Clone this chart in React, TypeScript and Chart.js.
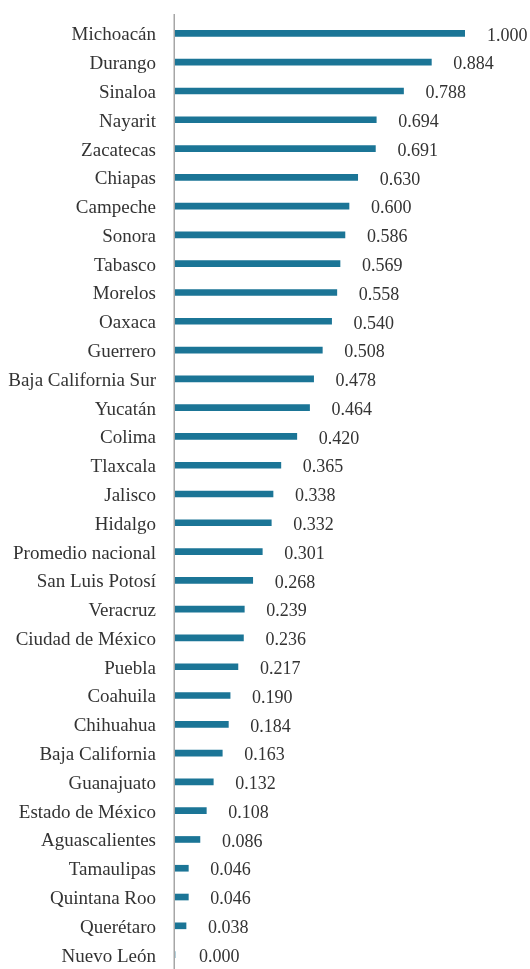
import React, { useEffect, useRef } from "react";
import { Chart, registerables } from "chart.js";

Chart.register(...registerables);

const categories = [
  "Michoacán", "Durango", "Sinaloa", "Nayarit", "Zacatecas", "Chiapas", "Campeche",
  "Sonora", "Tabasco", "Morelos", "Oaxaca", "Guerrero", "Baja California Sur", "Yucatán",
  "Colima", "Tlaxcala", "Jalisco", "Hidalgo", "Promedio nacional", "San Luis Potosí",
  "Veracruz", "Ciudad de México", "Puebla", "Coahuila", "Chihuahua", "Baja California",
  "Guanajuato", "Estado de México", "Aguascalientes", "Tamaulipas", "Quintana Roo",
  "Querétaro", "Nuevo León",
];

const values = [
  1.0, 0.884, 0.788, 0.694, 0.691, 0.63, 0.6, 0.586, 0.569, 0.558, 0.54, 0.508, 0.478,
  0.464, 0.42, 0.365, 0.338, 0.332, 0.301, 0.268, 0.239, 0.236, 0.217, 0.19, 0.184,
  0.163, 0.132, 0.108, 0.086, 0.046, 0.046, 0.038, 0.0,
];

const BAR_COLOR = "#1b7596";
const TEXT_COLOR = "#333333";
const AXIS_COLOR = "#a6a6a6";

const valueLabels = {
  id: "valueLabels",
  afterDatasetsDraw(chart: any) {
    const { ctx, chartArea } = chart;
    const xs = chart.scales.x;
    const meta = chart.getDatasetMeta(0);
    ctx.save();
    // axis line
    ctx.strokeStyle = AXIS_COLOR;
    ctx.lineWidth = 1.5;
    ctx.beginPath();
    ctx.moveTo(chartArea.left - 0.75, chartArea.top - 5);
    ctx.lineTo(chartArea.left - 0.75, chartArea.bottom);
    ctx.stroke();
    ctx.font = '18px "Liberation Serif"';
    ctx.fillStyle = TEXT_COLOR;
    ctx.textAlign = "left";
    ctx.textBaseline = "middle";
    meta.data.forEach((bar: any, i: number) => {
      const v = values[i];
      const x = Math.max(xs.getPixelForValue(v) + 22, xs.getPixelForValue(0) + 24);
      ctx.fillText(v.toFixed(3), x, bar.y + 2.5);
    });
    ctx.restore();
  },
};

export default function App() {
  const ref = useRef<HTMLCanvasElement>(null);
  useEffect(() => {
    document.body.style.margin = "0";
    const chart = new Chart(ref.current!, {
      type: "bar",
      data: {
        labels: categories,
        datasets: [
          {
            data: values,
            backgroundColor: BAR_COLOR,
            barThickness: 6,
          },
        ],
      },
      options: {
        indexAxis: "y",
        animation: false,
        responsive: false,
        maintainAspectRatio: false,
        layout: { padding: { top: 19, right: 65, bottom: 0, left: 0 } },
        plugins: { legend: { display: false }, tooltip: { enabled: false } },
        scales: {
          x: { display: false, min: 0, max: 1 },
          y: {
            afterFit: (scale: any) => {
              scale.width = 175;
              scale.paddingTop = 0;
              scale.paddingBottom = 0;
            },
            border: { display: false },
            grid: { display: false, drawTicks: false },
            ticks: {
              padding: 19,
              labelOffset: 2,
              color: TEXT_COLOR,
              font: { family: '"Liberation Serif"', size: 19 },
              autoSkip: false,
            },
          },
        },
      },
      plugins: [valueLabels],
    });
    return () => chart.destroy();
  }, []);
  return (
    <div style={{ width: 530, height: 969 }}>
      <canvas ref={ref} width={530} height={969} style={{ display: "block" }} />
    </div>
  );
}
